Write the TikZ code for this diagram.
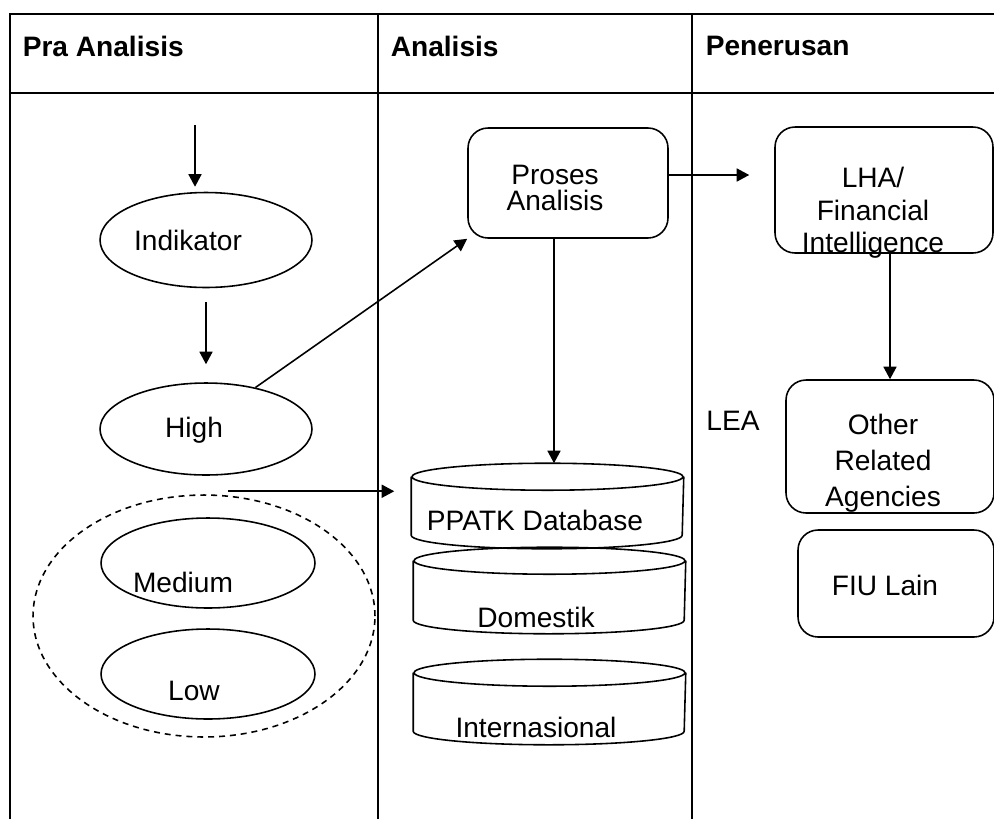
\documentclass[tikz,border=0pt]{standalone}
\usepackage{fontspec}
\setmainfont{Liberation Sans}
\usetikzlibrary{arrows.meta,shapes.geometric}
\tikzset{
  oval/.style={draw, ellipse, inner sep=0pt, minimum width=4.24cm, minimum height=1.9cm},
  kotak/.style={draw, rounded corners=0.4cm, inner sep=0pt},
  dbbox/.style={inner sep=0pt, minimum width=5.42cm, minimum height=1.68cm},
  txt/.style={font=\fontsize{16}{18}\selectfont, inner sep=0pt, align=center},
  judul/.style={font=\bfseries\fontsize{16}{18}\selectfont, anchor=west, inner sep=0pt},
  arr/.style={-{Triangle[length=0.25cm,width=0.26cm]}},
}
\begin{document}
\begin{tikzpicture}[x=0.02cm, y=-0.02cm, line width=0.9pt]
  \useasboundingbox (0,0) rectangle (994,819);

  % Tabel
  \draw (10,819) -- (10,14) -- (994,14);
  \draw (10,93) -- (994,93);
  \draw (378,14) -- (378,819);
  \draw (692,14) -- (692,819);

  % Judul kolom
  \node[judul] (praanalisis) at (22,46) {Pra Analisis};
  \node[judul] (analisis) at (390,46) {Analisis};
  \node[judul] (penerusan) at (705,46) {Penerusan};

  % Pra Analisis
  \coordinate (masuk) at (195,125);
  \node[oval] (indikator) at (206,240) {};
  \node[txt] (tindikator) at (188,240) {Indikator};
  \node[oval, minimum height=1.84cm] (high) at (206,429) {};
  \node[txt] (thigh) at (194,430) {High};
  \node[oval, dash pattern=on 3.4pt off 2.8pt, minimum width=6.84cm, minimum height=4.84cm] (grp) at (204,616) {};
  \node[oval, minimum width=4.28cm, minimum height=1.8cm] (medium) at (208,563) {};
  \node[txt] (tmedium) at (183,582) {Medium};
  \node[oval, minimum width=4.28cm, minimum height=1.8cm] (low) at (208,674) {};
  \node[txt] (tlow) at (194,691) {Low};

  % Analisis
  \node[kotak, minimum width=4cm, minimum height=2.2cm] (proses) at (568,183) {};
  \node[txt, font=\fontsize{16}{15}\selectfont] (tproses) at (555,188) {Proses\\Analisis};
  \node[dbbox] (db1) at (547.5,506) {};
  \node[dbbox, minimum height=1.7cm] (db2) at (549.5,590.5) {};
  \node[dbbox] (db3) at (549.5,702) {};
  \foreach \db in {db1,db2,db3}
    \draw ([yshift=-0.27cm]\db.north) ellipse [x radius=2.71cm, y radius=0.27cm]
          ([yshift=-0.27cm]\db.north west) -- ([yshift=0.27cm]\db.south west)
          arc[start angle=180, end angle=360, x radius=2.71cm, y radius=0.27cm]
          -- ([yshift=-0.27cm]\db.north east);
  \node[txt] (ppatk) at (535,520) {PPATK Database};
  \node[txt] (domestik) at (536,617) {Domestik};
  \node[txt] (internasional) at (536,727) {Internasional};

  % Penerusan
  \node[kotak, minimum width=4.36cm, minimum height=2.52cm] (lha) at (884,190) {};
  \node[txt, font=\fontsize{16}{18.5}\selectfont] (tlha) at (873,213) {LHA/\\Financial\\Intelligence};
  \node[txt] (lea) at (733,421) {LEA};
  \node[kotak, minimum width=4.16cm, minimum height=2.66cm] (other) at (890,446.5) {};
  \node[txt, font=\fontsize{16}{20.5}\selectfont] (tother) at (883,463) {Other\\Related\\Agencies};
  \node[kotak, minimum width=3.92cm, minimum height=2.14cm] (fiu) at (896,583.5) {};
  \node[txt] (tfiu) at (885,585) {FIU Lain};

  % Panah
  \draw[arr, shorten >=0.1cm] (masuk) -- (masuk |- indikator.north);
  \draw[arr, shorten <=0.28cm, shorten >=0.36cm] (indikator) -- (high);
  \draw[arr] (high.40) -- (proses.south west);
  \coordinate (grptop) at ([xshift=0.48cm,yshift=0.06cm]grp.north);
  \draw[arr, shorten >=0.34cm] (grptop) -- (grptop -| db1.west);
  \draw[arr] ([xshift=-0.28cm]proses.south) -- ([xshift=-0.28cm]proses.south |- db1.north);
  \draw[arr, shorten >=0.5cm] ([yshift=0.16cm]proses.east) -- ([yshift=0.16cm]proses.east -| lha.west);
  \draw[arr] (lha.south -| other) -- (other.north);
\end{tikzpicture}
\end{document}
